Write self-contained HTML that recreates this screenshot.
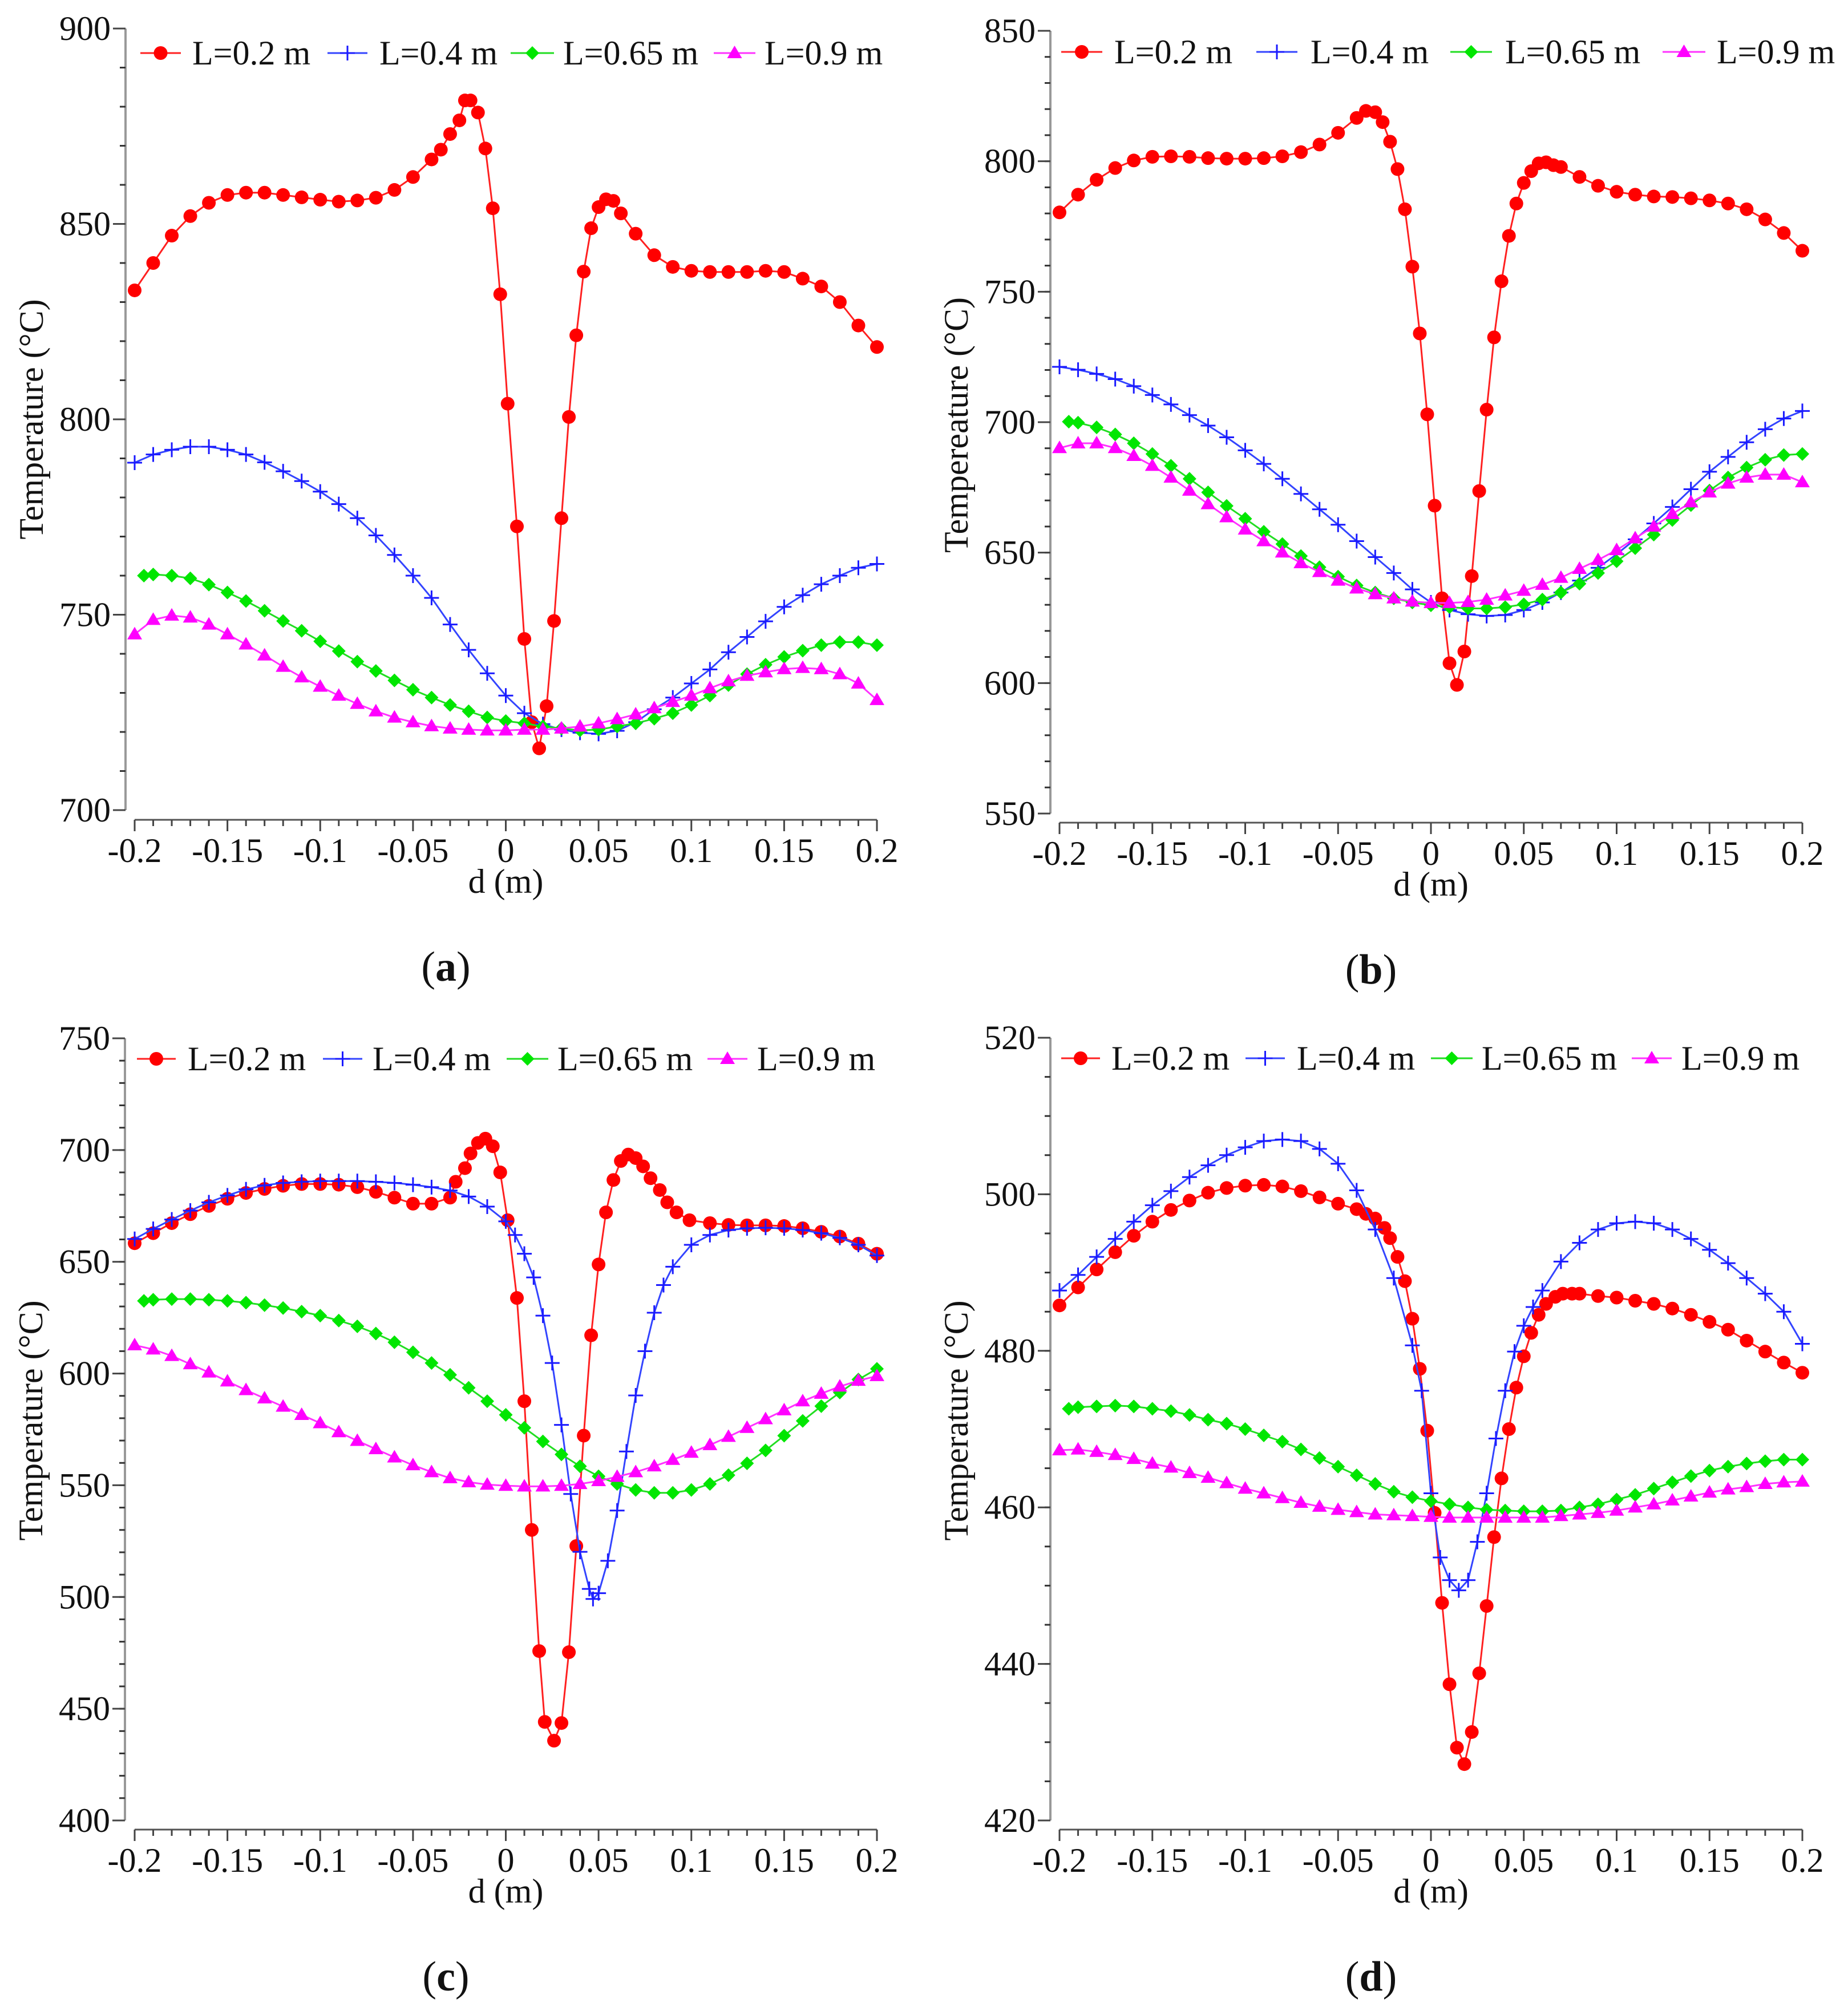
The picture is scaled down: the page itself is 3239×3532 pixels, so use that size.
<!DOCTYPE html>
<html><head><meta charset="utf-8"><style>
html,body{margin:0;padding:0;background:#fff;}
svg{display:block;}
svg text, svg tspan{font-family:"Liberation Serif","Times New Roman",Times,"DejaVu Serif",serif !important;fill:#111;}
</style></head><body>
<svg id="fig" width="3239" height="3532" viewBox="0 0 3239 3532" xmlns="http://www.w3.org/2000/svg"></svg>
<script>
// ---------- shared categories ----------
const X10 = [-0.2,-0.19,-0.18,-0.17,-0.16,-0.15,-0.14,-0.13,-0.12,-0.11,-0.1,-0.09,-0.08,-0.07,-0.06,-0.05,-0.04,-0.03,-0.02,-0.01,0,0.01,0.02,0.03,0.04,0.05,0.06,0.07,0.08,0.09,0.1,0.11,0.12,0.13,0.14,0.15,0.16,0.17,0.18,0.19,0.2];
const X10g = [-0.195,-0.19,-0.18,-0.17,-0.16,-0.15,-0.14,-0.13,-0.12,-0.11,-0.1,-0.09,-0.08,-0.07,-0.06,-0.05,-0.04,-0.03,-0.02,-0.01,0,0.01,0.02,0.03,0.04,0.05,0.06,0.07,0.08,0.09,0.1,0.11,0.12,0.13,0.14,0.15,0.16,0.17,0.18,0.19,0.2];
const xTickLabels = ["-0.2","-0.15","-0.1","-0.05","0","0.05","0.1","0.15","0.2"];
const legendLabels = ["L=0.2 m","L=0.4 m","L=0.65 m","L=0.9 m"];

// ---------- panel (a) ----------
const aRedX = [-0.2,-0.19,-0.18,-0.17,-0.16,-0.15,-0.14,-0.13,-0.12,-0.11,-0.1,-0.09,-0.08,-0.07,-0.06,-0.05,-0.04,-0.035,-0.03,-0.025,-0.022,-0.019,-0.015,-0.011,-0.007,-0.003,0.001,0.006,0.010,0.014,0.018,0.022,0.026,0.030,0.034,0.038,0.042,0.046,0.050,0.054,0.058,0.062,0.07,0.08,0.09,0.1,0.11,0.12,0.13,0.14,0.15,0.16,0.17,0.18,0.19,0.2];
const aRedY = [833,840,847,852,855.4,857.4,858,858,857.4,856.8,856.2,855.7,856,856.7,858.7,862,866.5,869,873,876.5,881.6,881.6,878.5,869.3,854,832,804,772.6,743.8,722.5,715.8,726.6,748.4,774.7,800.6,821.5,837.8,848.9,854.3,856.3,855.9,852.7,847.5,842,839,838,837.7,837.7,837.7,838,837.7,836,834,830,824,818.5];
const aBlueY = [788.9,791,792.2,793,793,792.2,791,789,786.7,784.2,781.5,778.3,774.7,770.3,765.3,760,754.3,747.5,741,735,729.3,724.8,722,720.6,719.8,719.5,720.3,722.5,725.8,728.8,732.4,736,740.4,744.3,748.3,752,755,757.8,760,762,763];
const aGreenY = [760,760.3,760,759.3,757.7,755.7,753.5,751,748.4,745.9,743.2,740.7,738,735.6,733.2,730.8,728.8,726.9,725.3,723.7,722.8,722.2,721.4,720.9,720.4,720.6,721.4,722.2,723.4,724.8,726.9,729.3,732,734.8,737.2,739.2,740.8,742.2,743,743,742.2];
const aMagY = [745,748.7,749.8,749.3,747.5,745,742.4,739.6,736.7,734,731.6,729.3,727.2,725.3,723.7,722.5,721.5,720.9,720.6,720.4,720.4,720.6,720.6,720.9,721.4,722.2,723.3,724.5,726.1,727.7,729.3,731.2,733,734.4,735.3,736.1,736.4,736.1,734.8,732.4,728.2];
const aYTicks = [700,750,800,850,900];

// ---------- panel (b) ----------
const bRedX = [-0.2,-0.19,-0.18,-0.17,-0.16,-0.15,-0.14,-0.13,-0.12,-0.11,-0.1,-0.09,-0.08,-0.07,-0.06,-0.05,-0.04,-0.035,-0.03,-0.026,-0.022,-0.018,-0.014,-0.010,-0.006,-0.002,0.002,0.006,0.010,0.014,0.018,0.022,0.026,0.030,0.034,0.038,0.042,0.046,0.050,0.054,0.058,0.062,0.066,0.07,0.08,0.09,0.1,0.11,0.12,0.13,0.14,0.15,0.16,0.17,0.18,0.19,0.2];
const bRedY = [780.4,787.2,792.9,797.4,800.3,801.7,801.9,801.7,801.2,801,801,801.2,801.9,803.5,806.4,810.9,816.6,819.3,818.8,815,807.5,797,781.6,759.6,734,703,668,632.5,607.6,599.3,612.1,641,673.6,704.8,732.5,754,771.4,783.8,791.7,796.2,799.2,799.6,798.5,797.8,794,790.6,788.3,787.2,786.5,786.3,785.8,785,783.8,781.6,777.7,772.5,765.7];
const bBlueY = [721.2,720.1,718.5,716.5,713.8,710.4,706.8,702.7,698.7,694.2,689.2,684,678.3,672.5,666.6,660.7,654.4,648.3,642.2,635.9,630.9,628,626.4,625.7,626.1,628,630.9,634.7,639.3,644.2,649.4,655.1,661.2,667.5,674.3,681,686.7,692.3,697.3,701.4,704.3];
const bGreenY = [700.2,699.8,698,695.3,691.9,687.8,683.3,678.3,673.1,667.9,663,658,653.3,648.7,644.4,640.8,637.4,634.7,632.5,630.9,629.8,629.1,628.6,628.6,629.1,630.2,632,634.7,638.1,642.2,646.7,651.7,656.9,662.5,668.2,673.8,678.8,682.6,685.6,687.4,687.8];
const bMagY = [690.1,691.9,691.9,690.1,687.1,683.3,678.8,673.8,668.6,663.6,658.9,654.4,650.1,646,642.6,639.3,636.3,634.1,632.5,631.3,630.7,630.7,631.1,632,633.6,635.4,637.7,640.4,643.8,647.2,651,655.5,660,664.8,669.3,673.1,676.5,678.8,679.9,679.9,677];
const bYTicks = [550,600,650,700,750,800,850];

// ---------- panel (c) ----------
const cRedX = [-0.2,-0.19,-0.18,-0.17,-0.16,-0.15,-0.14,-0.13,-0.12,-0.11,-0.1,-0.09,-0.08,-0.07,-0.06,-0.05,-0.04,-0.03,-0.027,-0.022,-0.019,-0.015,-0.011,-0.007,-0.003,0.001,0.006,0.010,0.014,0.018,0.021,0.026,0.030,0.034,0.038,0.042,0.046,0.050,0.054,0.058,0.062,0.066,0.070,0.074,0.078,0.083,0.087,0.092,0.099,0.11,0.12,0.13,0.14,0.15,0.16,0.17,0.18,0.19,0.2];
const cRedY = [658.3,662.8,667.3,671.3,675,678.2,680.8,682.6,684,684.8,684.8,684.5,683.4,681.3,678.7,676,676,678.7,685.8,691.9,698.5,703.2,705.1,701.7,690,668.6,633.8,587.6,530,475.8,444.1,435.7,443.6,475.3,522.8,572.2,617.1,648.8,672.1,686.6,695.1,698,696.4,692.7,687.4,682.1,676.6,672.1,668.6,667.3,666.5,666.3,666.3,666,665,663.4,661.3,658.1,653.6];
const cBlueX = [-0.2,-0.19,-0.18,-0.17,-0.16,-0.15,-0.14,-0.13,-0.12,-0.11,-0.1,-0.09,-0.08,-0.07,-0.06,-0.05,-0.04,-0.03,-0.02,-0.01,0,0.005,0.01,0.015,0.02,0.025,0.03,0.035,0.04,0.045,0.047,0.05,0.055,0.06,0.065,0.07,0.075,0.08,0.085,0.09,0.1,0.11,0.12,0.13,0.14,0.15,0.16,0.17,0.18,0.19,0.2];
const cBlueY = [660.2,664.7,668.9,672.9,676.6,679.7,682.4,684.2,685.3,685.8,686.1,686.1,686.1,685.8,685.3,684.5,683.4,681.9,679.2,674.7,668.1,662,653.6,643,625.9,604.7,577,546.1,520.2,503.6,499.1,501.7,516.2,538.7,565.1,590.2,610,627.2,639.6,647.8,657.6,662,664.2,665,665.2,665,664.2,662.8,660.7,657.6,652.8];
const cGreenY = [632.5,633,633.3,633.3,633,632.5,631.7,630.6,629.3,627.7,625.9,623.7,621.1,617.9,614,609.5,604.7,599.4,593.6,587.6,581.5,575.7,569.6,563.8,558.5,554,550.6,547.9,546.6,546.6,547.9,550.6,554.5,559.8,565.6,572.2,578.8,585.4,591.5,597.3,602.1];
const cMagY = [612.7,610.8,607.9,604.2,600.5,596.5,592.6,588.9,585.2,581.5,577.8,573.8,569.9,566.2,562.5,559,555.9,553.2,551.4,550.3,549.8,549.5,549.5,549.8,550.6,551.9,553.8,555.9,558.5,561.4,564.6,568,571.7,575.7,579.6,583.6,587.6,591,594.2,596.8,598.9];
const cYTicks = [400,450,500,550,600,650,700,750];

// ---------- panel (d) ----------
const dRedX = [-0.2,-0.19,-0.18,-0.17,-0.16,-0.15,-0.14,-0.13,-0.12,-0.11,-0.1,-0.09,-0.08,-0.07,-0.06,-0.05,-0.04,-0.035,-0.03,-0.025,-0.022,-0.018,-0.014,-0.010,-0.006,-0.002,0.002,0.006,0.010,0.014,0.018,0.022,0.026,0.030,0.034,0.038,0.042,0.046,0.050,0.054,0.058,0.062,0.067,0.071,0.076,0.08,0.09,0.1,0.11,0.12,0.13,0.14,0.15,0.16,0.17,0.18,0.19,0.2];
const dRedY = [485.8,488.1,490.4,492.6,494.7,496.5,498,499.2,500.2,500.8,501.1,501.2,501,500.4,499.6,498.8,498.1,497.5,496.9,495.7,494.4,492,488.9,484.1,477.7,469.8,459.3,447.8,437.4,429.3,427.2,431.3,438.8,447.4,456.2,463.7,470,475.3,479.3,482.3,484.6,486,486.9,487.3,487.3,487.3,487,486.8,486.4,486,485.4,484.6,483.7,482.7,481.3,479.9,478.5,477.2];
const dBlueX = [-0.2,-0.19,-0.18,-0.17,-0.16,-0.15,-0.14,-0.13,-0.12,-0.11,-0.1,-0.09,-0.08,-0.07,-0.06,-0.05,-0.04,-0.03,-0.02,-0.01,-0.005,0,0.005,0.01,0.015,0.02,0.025,0.03,0.035,0.04,0.045,0.05,0.055,0.06,0.07,0.08,0.09,0.1,0.11,0.12,0.13,0.14,0.15,0.16,0.17,0.18,0.19,0.2];
const dBlueY = [487.7,489.7,492,494.3,496.5,498.6,500.4,502.2,503.7,505,506,506.8,507,506.8,505.8,503.9,500.5,495.5,489.3,480.7,474.9,461.8,453.6,450.7,449.4,450.7,455.6,461.8,468.8,474.9,479.9,483.2,485.6,487.7,491.4,493.8,495.5,496.3,496.5,496.3,495.5,494.3,492.9,491.2,489.3,487.3,485,480.9];
const dGreenY = [472.6,472.8,472.9,473,472.9,472.6,472.3,471.8,471.2,470.7,470,469.2,468.4,467.4,466.3,465.2,464.1,463,462,461.3,460.8,460.4,460,459.7,459.6,459.5,459.5,459.6,460,460.4,461,461.6,462.4,463.2,464,464.7,465.2,465.6,465.9,466.1,466.1];
const dMagY = [467.3,467.4,467.1,466.7,466.2,465.6,465.1,464.4,463.8,463.1,462.4,461.8,461.2,460.6,460.1,459.7,459.4,459.1,459,458.9,458.8,458.7,458.7,458.7,458.7,458.7,458.7,458.9,459.1,459.3,459.6,460,460.4,460.9,461.4,461.9,462.3,462.6,463,463.2,463.3];
const dYTicks = [420,440,460,480,500,520];

const NS = "http://www.w3.org/2000/svg";
const FONT = "'Liberation Serif', 'Times New Roman', Times, 'DejaVu Serif', serif";
const svg = document.getElementById('fig');
function mk(tag, attrs, parent){
  const e = document.createElementNS(NS, tag);
  for (const k in attrs) e.setAttribute(k, attrs[k]);
  if (tag === 'text') e.style.fontFamily = FONT;
  (parent||svg).appendChild(e);
  return e;
}
const COLORS = {red:'#ff0000', blue:'#1a1aff', green:'#00e600', mag:'#ff00ff'};
const LINECOL = {red:'#ff2020', blue:'#3344ff', green:'#22dd22', mag:'#ff33ff'};

function marker(kind, cx, cy, g){
  let e;
  if (kind==='red'){
    e = mk('circle',{cx:cx,cy:cy,r:12,fill:COLORS.red},g);
  } else if (kind==='blue'){
    e = mk('path',{d:`M${cx-13},${cy}H${cx+13}M${cx},${cy-13}V${cy+13}`,stroke:COLORS.blue,'stroke-width':3,fill:'none'},g);
  } else if (kind==='green'){
    e = mk('polygon',{points:`${cx},${cy-12} ${cx+12},${cy} ${cx},${cy+12} ${cx-12},${cy}`,fill:COLORS.green},g);
  } else {
    e = mk('polygon',{points:`${cx},${cy-13} ${cx+13},${cy+9} ${cx-13},${cy+9}`,fill:COLORS.mag},g);
  }
  
  
  return e;
}

function panel(p){
  const g = mk('g',{});
  
  
  const sx = d => p.xL + (d + 0.2) / 0.4 * (p.xR - p.xL);
  const sy = t => p.yTop + (p.ymax - t) / (p.ymax - p.ymin) * (p.yBot - p.yTop);
  const ya = mk('line',{x1:p.yAxisX,y1:p.yTop,x2:p.yAxisX,y2:p.yBot,stroke:'#999','stroke-width':4},g);
  
  
  for (let t = p.ymin; t <= p.ymax + 1e-9; t += p.minor){
    const y = sy(t);
    mk('line',{x1:p.yAxisX-10,y1:y,x2:p.yAxisX,y2:y,stroke:'#333','stroke-width':3},g);
  }
  p.yticks.forEach(t => {
    const y = sy(t);
    mk('line',{x1:p.yAxisX-22,y1:y,x2:p.yAxisX,y2:y,stroke:'#444','stroke-width':3},g);
    const tx = mk('text',{x:p.yAxisX-26,y:y+20,'text-anchor':'end','font-size':60},g);
    tx.textContent = String(t);
    
    
  });
  const xa = mk('line',{x1:p.xL,y1:p.xAxisY,x2:p.xR,y2:p.xAxisY,stroke:'#555','stroke-width':3},g);
  
  
  for (let i = 0; i <= 40; i++){
    const x = sx(-0.2 + i*0.01);
    const major = (i % 5 === 0);
    mk('line',{x1:x,y1:p.xAxisY,x2:x,y2:p.xAxisY+(major?20:11),stroke:'#444','stroke-width':3},g);
  }
  xTickLabels.forEach((lab,i) => {
    const x = sx(-0.2 + i*0.05);
    const tx = mk('text',{x:x,y:p.xAxisY+74,'text-anchor':'middle','font-size':60},g);
    tx.textContent = lab;
    
    
  });
  const xt = mk('text',{x:(p.xL+p.xR)/2,y:p.xAxisY+128,'text-anchor':'middle','font-size':60},g);
  xt.textContent = 'd (m)';
  
  
  const yt = mk('text',{x:0,y:0,'text-anchor':'middle','font-size':60,transform:`translate(${p.yAxisX-145},${p.yTitleY}) rotate(-90)`},g);
  yt.textContent = p.ytitle;
  
  
  const pl = mk('text',{x:(p.xL+p.xR)/2-105,y:p.xAxisY+282,'text-anchor':'middle','font-size':74},g);
  pl.innerHTML = '(<tspan font-weight="bold">'+p.id+'</tspan>)';
  
  
  p.series.forEach(s => {
    const sg = mk('g',{},g);
    
    
    const pts = s.x.map((d,i) => sx(d).toFixed(1)+','+sy(s.y[i]).toFixed(1)).join(' ');
    const pln = mk('polyline',{points:pts,fill:'none',stroke:LINECOL[s.kind],'stroke-width':3},sg);
    
    
    s.x.forEach((d,i) => marker(s.kind, sx(d), sy(s.y[i]), sg));
  });
  const kinds = ['red','blue','green','mag'];
  kinds.forEach((k,i) => {
    const lg = mk('g',{},g);
    
    
    const L = p.legend[i];
    mk('line',{x1:L[0],y1:p.legY,x2:L[1],y2:p.legY,stroke:LINECOL[k],'stroke-width':3},lg);
    marker(k,(L[0]+L[1])/2,p.legY,lg);
    const t = mk('text',{x:L[2],y:p.legY+20,'font-size':60},lg);
    t.textContent = legendLabels[i];
  });
}

panel({id:'a', xL:236, xR:1537, yAxisX:220, yTop:50, yBot:1420, ymin:700, ymax:900, minor:10, xAxisY:1437,
  yticks:aYTicks, ytitle:'Temperature (°C)', yTitleY:735, legY:93,
  legend:[[246,317,337],[574,644,665],[895,971,987],[1251,1324,1340]],
  series:[{name:'series-l02',kind:'red',x:aRedX,y:aRedY},{name:'series-l04',kind:'blue',x:X10,y:aBlueY},
          {name:'series-l065',kind:'green',x:X10g,y:aGreenY},{name:'series-l09',kind:'mag',x:X10,y:aMagY}]});
panel({id:'b', xL:1857, xR:3159, yAxisX:1841, yTop:54, yBot:1426, ymin:550, ymax:850, minor:10, xAxisY:1442,
  yticks:bYTicks, ytitle:'Tempereature (°C)', yTitleY:745, legY:91,
  legend:[[1860,1932,1953],[2202,2274,2297],[2542,2615,2638],[2914,2989,3009]],
  series:[{name:'series-l02',kind:'red',x:bRedX,y:bRedY},{name:'series-l04',kind:'blue',x:X10,y:bBlueY},
          {name:'series-l065',kind:'green',x:X10g,y:bGreenY},{name:'series-l09',kind:'mag',x:X10,y:bMagY}]});
panel({id:'c', xL:236, xR:1537, yAxisX:219, yTop:1820, yBot:3191, ymin:400, ymax:750, minor:10, xAxisY:3207,
  yticks:cYTicks, ytitle:'Temperature (°C)', yTitleY:2490, legY:1856,
  legend:[[240,308,329],[566,635,653],[888,961,977],[1240,1310,1327]],
  series:[{name:'series-l02',kind:'red',x:cRedX,y:cRedY},{name:'series-l04',kind:'blue',x:cBlueX,y:cBlueY},
          {name:'series-l065',kind:'green',x:X10g,y:cGreenY},{name:'series-l09',kind:'mag',x:X10,y:cMagY}]});
panel({id:'d', xL:1857, xR:3159, yAxisX:1841, yTop:1819, yBot:3191, ymin:420, ymax:520, minor:5, xAxisY:3207,
  yticks:dYTicks, ytitle:'Temperature (°C)', yTitleY:2490, legY:1855,
  legend:[[1860,1928,1948],[2183,2252,2273],[2508,2581,2597],[2860,2930,2947]],
  series:[{name:'series-l02',kind:'red',x:dRedX,y:dRedY},{name:'series-l04',kind:'blue',x:dBlueX,y:dBlueY},
          {name:'series-l065',kind:'green',x:X10g,y:dGreenY},{name:'series-l09',kind:'mag',x:X10,y:dMagY}]});
</script>
</body></html>
